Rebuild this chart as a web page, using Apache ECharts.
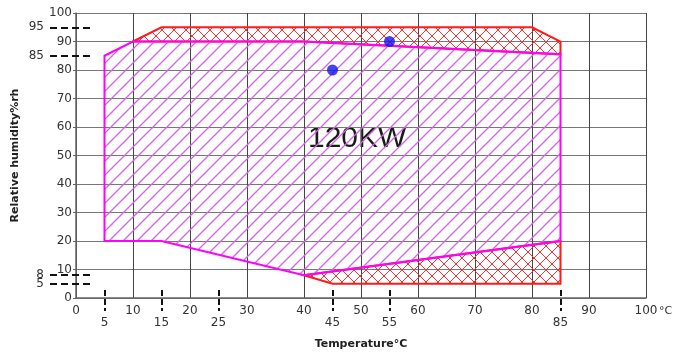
<!DOCTYPE html>
<html>
<head>
<meta charset="utf-8">
<script src="https://cdn.jsdelivr.net/npm/echarts@6/dist/echarts.min.js"></script>
<style>
  html, body { margin: 0; padding: 0; background: #fff; }
  #chart { width: 674px; height: 353px; }
</style>
</head>
<body>
<div id="chart"></div>
<script>
// 온습도 운전 범위 차트 (120KW)
var chart = echarts.init(document.getElementById('chart'))

// 보조 눈금 (점선 표시)
const extraXTicks = [5, 15, 25, 45, 55, 85]
const extraYTicks = [95, 85, 8]
const extraYTicksLow = [5]

// 운전 영역 (분홍 빗금)
const magentaZone = [[5, 85], [10, 90], [40, 90], [85, 85.5], [85, 20], [40, 8], [15, 20], [5, 20]]
// 확장 영역 (빨강 격자)
const redTopZone = [[10, 90], [15, 95], [80, 95], [85, 90], [85, 85.5], [40, 90]]
const redBottomZone = [[40, 8], [45, 5], [85, 5], [85, 20]]
// 측정점
const points = [[45, 80], [55, 90]]

// 빗금 패턴 만들기
function makeHatch(size, color, width, cross) {
  var c = document.createElement('canvas')
  c.width = size
  c.height = size
  var ctx = c.getContext('2d')
  ctx.strokeStyle = color
  ctx.lineWidth = width
  ctx.beginPath()
  ctx.moveTo(-1, size + 1); ctx.lineTo(size + 1, -1)
  ctx.moveTo(-1, 1); ctx.lineTo(1, -1)
  ctx.moveTo(size - 1, size + 1); ctx.lineTo(size + 1, size - 1)
  if (cross) {
    ctx.moveTo(-1, -1); ctx.lineTo(size + 1, size + 1)
    ctx.moveTo(size - 1, -1); ctx.lineTo(size + 1, 1)
    ctx.moveTo(-1, size - 1); ctx.lineTo(1, size + 1)
  }
  ctx.stroke()
  return c
}

var magentaHatch = { image: makeHatch(14, '#d066e0', 1.3, false), repeat: 'repeat' }
var redHatch = { image: makeHatch(12, '#ff3030', 1, true), repeat: 'repeat' }

function zoneSeries(verts, fill, stroke) {
  return {
    type: 'custom',
    data: verts,
    silent: true,
    renderItem: function (params, api) {
      if (params.dataIndex !== 0) return
      var pts = verts.map(function (p) { return api.coord(p) })
      return {
        type: 'polygon',
        shape: { points: pts },
        style: { fill: fill, stroke: stroke, lineWidth: 2 }
      }
    }
  }
}

var labelFont = { fontFamily: 'DejaVu Sans', fontSize: 12, color: '#333' }

// 점선 보조 y축 만들기
function dashedYAxis(values) {
  return {
    type: 'value',
    min: 0,
    max: 100,
    position: 'left',
    offset: -14,
    axisLine: { show: false },
    axisTick: {
      show: true,
      customValues: values,
      length: 42,
      lineStyle: { color: '#111', width: 2, type: [7, 4] }
    },
    axisLabel: Object.assign({ customValues: values, margin: 46, hideOverlap: false }, labelFont),
    splitLine: { show: false }
  }
}

option = {
  animation: false,
  grid: { left: 76, right: 28, top: 13, bottom: 55, outerBoundsMode: 'none', containLabel: false },
  xAxis: [
    {
      type: 'value',
      min: 0,
      max: 100,
      interval: 10,
      name: '°C',
      nameLocation: 'end',
      nameGap: 13,
      nameMoveOverlap: false,
      nameTextStyle: { fontFamily: 'DejaVu Sans', fontSize: 11, color: '#333', verticalAlign: 'top', padding: [8, 0, 0, 0] },
      axisLine: { lineStyle: { color: '#666', width: 1.5 } },
      axisTick: { show: false },
      axisLabel: Object.assign({ margin: 7 }, labelFont),
      splitLine: { lineStyle: { color: '#444', width: 1 } }
    },
    {
      type: 'value',
      min: 0,
      max: 100,
      position: 'bottom',
      offset: -8,
      name: 'Temperature°C',
      nameLocation: 'middle',
      nameGap: 49,
      nameMoveOverlap: false,
      nameTextStyle: { fontFamily: 'DejaVu Sans', fontWeight: 'bold', fontSize: 11, color: '#222' },
      axisLine: { show: false },
      axisTick: {
        show: true,
        customValues: extraXTicks,
        length: 21,
        lineStyle: { color: '#111', width: 2, type: [6, 3] }
      },
      axisLabel: Object.assign({ customValues: extraXTicks, margin: 27, hideOverlap: false }, labelFont),
      splitLine: { show: false }
    }
  ],
  yAxis: [
    {
      type: 'value',
      min: 0,
      max: 100,
      interval: 10,
      name: 'Relative humidity%rh',
      nameLocation: 'middle',
      nameRotate: 90,
      nameGap: 55,
      nameMoveOverlap: false,
      nameTextStyle: { fontFamily: 'DejaVu Sans', fontWeight: 'bold', fontSize: 11, color: '#222' },
      axisLine: { show: true, lineStyle: { color: '#666', width: 1.5 } },
      axisTick: { show: true, length: 3, lineStyle: { color: '#666' } },
      axisLabel: Object.assign({ margin: 4, hideOverlap: false }, labelFont),
      splitLine: { lineStyle: { color: '#777', width: 1 } }
    },
    dashedYAxis(extraYTicks),
    dashedYAxis(extraYTicksLow)
  ],
  graphic: [
    {
      type: 'text',
      left: 308,
      top: 124,
      silent: true,
      style: { text: '120KW', font: '30px "Liberation Sans"', fill: '#1a1a1a' }
    }
  ],
  series: [
    zoneSeries(redTopZone, redHatch, '#ff1a1a'),
    zoneSeries(redBottomZone, redHatch, '#ff1a1a'),
    zoneSeries(magentaZone, magentaHatch, '#ff00ff'),
    {
      type: 'scatter',
      data: points,
      symbolSize: 11,
      itemStyle: { color: '#1414f0' },
      z: 5
    }
  ]
}

//  차트 옵션 설정하기
chart.setOption(option)
</script>
</body>
</html>
